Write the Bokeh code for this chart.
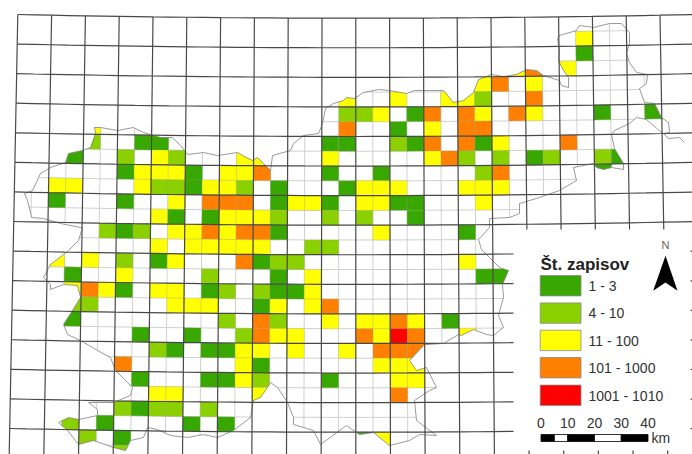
from bokeh.plotting import figure
from bokeh.embed import file_html
from bokeh.resources import INLINE
from bokeh.core.properties import value

# Survey grid cells: row index -> {column index: record class}
G, L, Y, O, R = 1, 2, 3, 4, 5
cell_rows = {
    1: {33: Y},
    2: {33: G},
    3: {29: Y, 30: O, 32: Y},
    4: {27: Y, 28: O, 30: Y},
    5: {19: Y, 22: Y, 25: Y, 26: Y, 27: L, 30: O},
    6: {19: L, 20: L, 21: Y, 23: G, 24: O, 26: O, 27: Y, 29: O, 30: Y, 34: G, 37: G},
    7: {4: Y, 19: O, 22: G, 24: Y, 26: O, 27: O},
    8: {4: L, 7: G, 8: G, 18: G, 19: G, 22: L, 23: G, 24: O, 26: O, 27: G, 28: Y, 32: O},
    9: {3: G, 6: L, 8: Y, 9: L, 13: Y, 14: Y, 18: Y, 24: Y, 25: O, 26: L, 28: L, 30: G, 31: L, 34: L, 35: G},
    10: {6: G, 7: Y, 8: Y, 9: Y, 10: G, 12: Y, 13: Y, 14: O, 18: G, 21: G, 27: L, 28: O, 34: G},
    11: {2: Y, 3: Y, 7: Y, 8: L, 9: L, 10: G, 11: Y, 12: Y, 13: L, 15: G, 19: G, 20: Y, 21: Y, 22: Y, 26: Y, 27: Y, 28: Y},
    12: {2: G, 6: G, 9: Y, 11: O, 12: O, 13: O, 15: G, 16: Y, 17: Y, 18: G, 20: Y, 21: Y, 22: G, 23: G, 27: Y},
    13: {8: Y, 9: G, 11: G, 12: Y, 13: Y, 14: Y, 15: L, 18: L, 20: L, 23: G},
    14: {5: L, 6: G, 7: L, 9: Y, 10: Y, 11: O, 12: Y, 13: O, 14: O, 15: G, 21: Y, 26: G},
    15: {8: Y, 10: Y, 11: Y, 12: Y, 13: Y, 14: Y, 17: L, 18: L},
    16: {2: Y, 4: Y, 6: L, 8: G, 9: Y, 13: O, 14: G, 15: L, 16: L, 26: Y},
    17: {3: G, 6: Y, 11: L, 15: G, 17: Y, 27: G, 28: G},
    18: {3: Y, 4: O, 5: Y, 6: G, 8: Y, 9: Y, 11: G, 12: L, 14: L, 15: G, 16: G, 17: Y},
    19: {3: L, 4: L, 9: Y, 10: Y, 11: Y, 14: G, 15: Y, 17: Y, 18: O},
    20: {3: G, 12: L, 14: O, 15: L, 18: Y, 20: Y, 21: Y, 22: O, 23: Y, 25: G},
    21: {7: G, 10: G, 13: L, 14: O, 15: Y, 16: Y, 20: O, 21: Y, 22: R, 23: O, 26: Y},
    22: {8: L, 9: G, 11: G, 12: G, 13: Y, 14: Y, 16: Y, 19: Y, 21: O, 22: O, 23: O, 24: G},
    23: {6: O, 13: Y, 14: G, 21: Y, 22: Y, 23: Y},
    24: {7: G, 11: G, 12: G, 13: Y, 14: L, 18: G, 22: Y, 23: Y},
    25: {8: Y, 9: Y, 14: Y, 22: O},
    26: {6: L, 7: G, 8: L, 9: L, 11: L},
    27: {3: L, 5: G, 10: G, 12: G},
    28: {4: L, 6: G, 20: G, 21: Y},
    29: {6: L},
}
legend_labels = ["1 - 3", "4 - 10", "11 - 100", "101 - 1000", "1001 - 1010"]
class_colors = ["#38A800", "#8BD100", "#FFFF00", "#FF8000", "#FF0000"]
scale_km = [0, 10, 20, 30, 40]

# National border, traced clockwise on the page
border_x = [94,100,117,133,143,153,160,172,180,187,203,217,237,242,252,257,263,270,272,290,293,303,318,322,325,333,343,
            346,354,363,378,389,406,414,443,449,453,463,473,478,491,503,516,526,536,543,559,561,568,568,563,558,559,557,559,
            576,579,593,609,621,629,629,626,629,636,647,646,639,644,654,661,668,669,663,661,646,636,629,614,611,614,623,623,
            611,603,596,593,573,576,559,539,519,519,509,489,489,478,481,489,499,508,502,503,498,503,493,486,473,461,458,443,
            424,409,416,426,436,429,414,416,436,419,409,389,373,359,346,320,313,293,293,287,277,270,267,260,253,250,233,217,
            203,187,170,157,147,143,130,125,113,93,78,67,58,68,78,97,97,88,113,130,132,115,110,97,80,67,63,72,80,77,63,50,50,
            43,50,63,68,78,82,80,60,43,31,29,27,24,32,40,50,65,68,82,90,95]
border_y = [127,127,130,127,132,135,137,137,145,154,152,155,152,155,160,157,163,170,155,150,143,135,133,123,108,103,100,
            97,98,92,89,90,93,90,90,97,102,100,92,79,74,76,74,69,70,75,80,85,87,77,70,60,50,38,35,
            30,25,27,23,23,32,43,53,62,72,74,83,88,102,103,117,122,132,133,132,119,117,123,130,134,148,163,169,
            167,169,167,163,167,180,190,197,203,213,217,218,227,239,249,257,267,270,284,297,315,327,335,334,329,335,334,343,
            344,360,370,367,387,390,400,420,435,434,440,445,432,434,425,444,430,424,417,402,387,382,387,397,400,417,430,437,
            434,437,435,429,427,437,440,450,447,440,444,430,422,417,419,415,409,402,402,395,387,370,357,350,340,334,324,310,297,285,284,289,284,
            277,264,254,250,240,227,227,223,218,217,208,200,193,190,173,167,162,153,150,147,133]
spur_x = [663, 668, 679, 684]
spur_y = [133, 138, 137, 142]


def gx(i, j):
    return 17.3 + 16.9 * i + 0.01446 * j * (i - 20)


def gy(i, j):
    return 14 + 3.7 * (1 - ((i - 20) / 20) ** 2) + 14.785 * j


p = figure(width=692, height=454, x_range=(0, 692), y_range=(454, 0),
           output_backend="svg", toolbar_location=None, min_border=0)
p.axis.visible = False
p.grid.visible = False
p.outline_line_color = None
p.background_fill_color = "white"

N_COL, N_ROW = 40, 30
rows_f = list(range(0, N_ROW + 1))
cols_f = list(range(0, N_COL + 1))

# fine lines (inside the border only: the mask hides the rest)
fx, fy = [], []
for i in range(1, N_COL, 2):
    fx.append([gx(i, j) for j in rows_f]); fy.append([gy(i, j) for j in rows_f])
for j in range(1, N_ROW, 2):
    fx.append([gx(i, j) for i in cols_f]); fy.append([gy(i, j) for i in cols_f])
p.multi_line(fx, fy, line_color="#d0d0d0", line_width=1)

# cells
cx, cy, cc = [], [], []
for j, row in cell_rows.items():
    for i, k in row.items():
        cx.append([gx(i, j), gx(i + 1, j), gx(i + 1, j + 1), gx(i, j + 1)])
        cy.append([gy(i, j), gy(i + 1, j), gy(i + 1, j + 1), gy(i, j + 1)])
        cc.append(class_colors[k - 1])
p.patches(cx, cy, fill_color=cc, line_color="#9a9a80", line_alpha=0.3, line_width=0.8)

# white mask outside the border
p.multi_polygons(xs=[[[[0, 700, 700, 0], border_x]]], ys=[[[[0, 0, 460, 460], border_y]]],
                 fill_color="white", line_color=None)
p.patch(border_x, border_y, fill_color=None, line_color="#808080", line_width=0.8)
p.line(spur_x, spur_y, line_color="#808080", line_width=0.8)

# coarse grid
kx, ky = [], []
for i in range(0, 39, 2):
    kx.append([gx(i, j) for j in rows_f]); ky.append([gy(i, j) for j in rows_f])
for j in range(0, N_ROW + 1, 2):
    kx.append([gx(i, j) for i in cols_f]); ky.append([gy(i, j) for i in cols_f])
p.multi_line(kx, ky, line_color="#484848", line_width=1.2)

# legend panel
p.quad(left=[513], right=[690], top=[229], bottom=[450], fill_color="white", line_color=None)

font = value("Liberation Sans")
p.text([540], [264], text=["Št. zapisov"], text_font=font, text_font_size="17px",
       text_font_style="bold", text_color="#222222", text_baseline="alphabetic")
tops = [275, 302.4, 329.7, 357, 384.6]
p.quad(left=[539.7] * 5, right=[580.5] * 5, top=tops, bottom=[t + 20.4 for t in tops],
       fill_color=class_colors, line_color="#8a8a8a", line_width=0.8)
p.text([588] * 5, [t + 10.5 for t in tops], text=legend_labels, text_font=font,
       text_font_size="14px", text_color="#333333", text_baseline="middle")

# scale bar
km_px = (647.5 - 540.5) / 40
sb = lambda v: 540.5 + v * km_px
seg_l = [0, 5, 10, 20, 30]
seg_r = [5, 10, 20, 30, 40]
p.quad(left=[sb(v) for v in seg_l], right=[sb(v) for v in seg_r], top=[434] * 5, bottom=[441] * 5,
       fill_color=["black", "white", "black", "white", "black"], line_color="black", line_width=0.8)
p.text([sb(v) for v in scale_km], [422.7] * 5, text=[str(v) for v in scale_km], text_font=font,
       text_font_size="14px", text_color="#333333", text_align="center", text_baseline="middle")
p.text([651], [437], text=["km"], text_font=font, text_font_size="14px", text_color="#333333",
       text_baseline="middle")

# north arrow
p.patch([665, 677, 665, 652.7], [255.3, 290.3, 282, 290.3], fill_color="black", line_color=None)
p.text([665], [244], text=["N"], text_font=font, text_font_size="11px", text_color="#666666",
       text_align="center", text_baseline="middle")

open("out.html", "w").write(file_html(p, INLINE))
